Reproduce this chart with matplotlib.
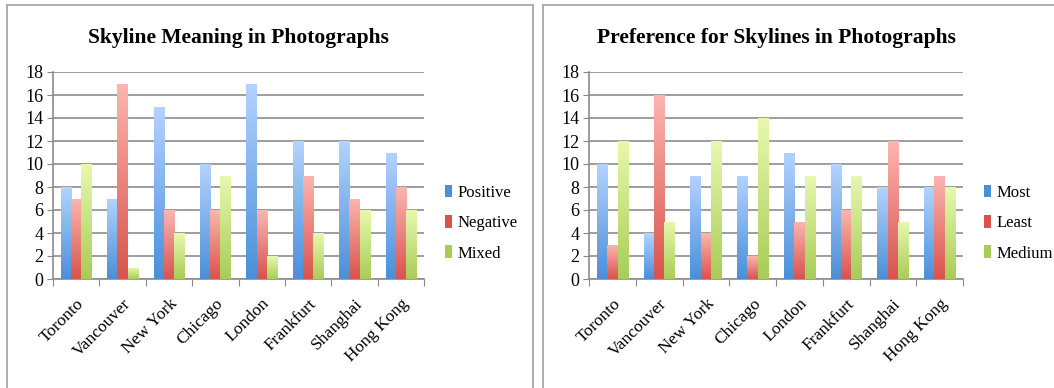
import numpy as np
import matplotlib.pyplot as plt
from matplotlib.colors import LinearSegmentedColormap
from matplotlib.patches import Rectangle

cities = ["Toronto", "Vancouver", "New York", "Chicago", "London",
          "Frankfurt", "Shanghai", "Hong Kong"]

positive = [8, 7, 15, 10, 17, 12, 12, 11]
negative = [7, 17, 6, 6, 6, 9, 7, 8]
mixed = [10, 1, 4, 9, 2, 4, 6, 6]

most = [10, 4, 9, 9, 11, 10, 8, 8]
least = [3, 16, 4, 2, 5, 6, 12, 9]
medium = [12, 5, 12, 14, 9, 9, 5, 8]

# (top colour, bottom colour) for the gradient fill
shades = [("#b4d3ff", "#4a8fd8"),
          ("#fcb6b0", "#d9534c"),
          ("#e9f8b0", "#a7cd55")]

plt.rcParams['font.family'] = ['Liberation Serif', 'DejaVu Serif']


def gradient_bars(ax, x, vals, shade, width):
    cmap = LinearSegmentedColormap.from_list("g", [shade[1], shade[0]])
    grad = np.linspace(0, 1, 256).reshape(-1, 1)
    bars = ax.bar(x, vals, width=width, color="none", edgecolor="none", zorder=3)
    for b in bars:
        x0, y0 = b.get_x(), b.get_y()
        w, h = b.get_width(), b.get_height()
        im = ax.imshow(grad, cmap=cmap, origin="lower", aspect="auto",
                       extent=(x0, x0 + w, y0, y0 + h), zorder=3)
        im.set_clip_path(b)
    return bars


def panel(ax, title, series, names):
    x = np.arange(len(cities))
    w = 0.22
    handles = []
    for i, (vals, shade) in enumerate(zip(series, shades)):
        gradient_bars(ax, x + (i - 1) * w, vals, shade, w)
        handles.append(Rectangle((0, 0), 1, 1, facecolor=shade[1]))
    ax.set_xlim(-0.5, len(cities) - 0.5)
    ax.set_ylim(0, 18)
    ax.set_yticks(range(0, 19, 2))
    ax.set_xticks(np.arange(len(cities) + 1) - 0.5, minor=False)
    ax.set_xticklabels([])
    ax.set_xticks(x, minor=True)
    ax.set_xticklabels(cities, minor=True, rotation=45, ha="right",
                       rotation_mode="anchor", fontsize=12.5)
    ax.tick_params(axis="x", which="minor", length=0, pad=12)
    ax.tick_params(axis="x", which="major", length=5, color="#888888")
    ax.tick_params(axis="y", length=4, color="#888888", labelsize=13, pad=3)
    ax.grid(axis="y", color="#8c8c8c", linewidth=1.2, zorder=0)
    for s in ["top", "right"]:
        ax.spines[s].set_visible(False)
    for s in ["left", "bottom"]:
        ax.spines[s].set_color("#8c8c8c")
        ax.spines[s].set_linewidth(1.2)
    ax.set_title(title, fontsize=15.5, fontweight="bold", pad=21)
    ax.legend(handles, names, loc="center left", bbox_to_anchor=(1.015, 0.27),
              frameon=False, fontsize=12, handlelength=0.45, handleheight=0.8,
              handletextpad=0.3, labelspacing=0.85)


fig = plt.figure(figsize=(10.54, 3.88), dpi=100)
W, H = 1054, 388

ax1 = fig.add_axes([53 / W, 1 - 279 / H, (424 - 53) / W, (279 - 72) / H])
ax2 = fig.add_axes([589 / W, 1 - 279 / H, (963 - 589) / W, (279 - 72) / H])

panel(ax1, "Skyline Meaning in Photographs", [positive, negative, mixed],
      ["Positive", "Negative", "Mixed"])
panel(ax2, "Preference for Skylines in Photographs", [most, least, medium],
      ["Most", "Least", "Medium"])

# chart frames
for x0, x1 in [(7, 533), (543, 1060)]:
    fig.add_artist(Rectangle((x0 / W, -0.1), (x1 - x0) / W, 1.1 - 5 / H,
                             transform=fig.transFigure, fill=False,
                             edgecolor="#a0a0a0", linewidth=1.2))

fig.savefig("out.png", dpi=100)
